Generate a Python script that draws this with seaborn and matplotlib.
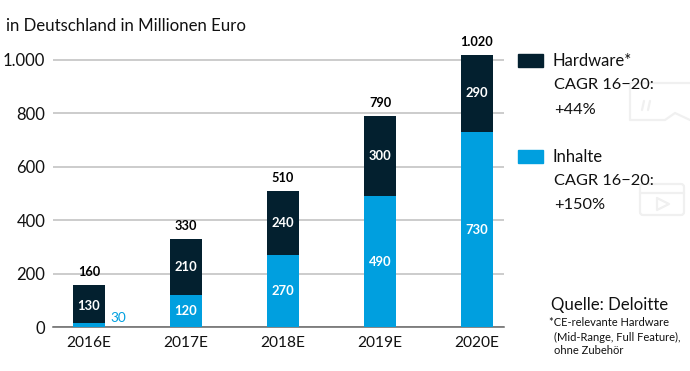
import matplotlib
matplotlib.use("Agg")
import matplotlib.pyplot as plt
import pandas as pd
import seaborn as sns

# ============================
# DATA
# ============================
jahre = ["2016E", "2017E", "2018E", "2019E", "2020E"]
# bar heights as drawn (the 2016 segment is drawn smaller than its label)
hardware = [142, 210, 240, 300, 290]
inhalte = [16, 120, 270, 490, 730]
labels_hardware = ["130", "210", "240", "300", "290"]
labels_inhalte = ["30", "120", "270", "490", "730"]
labels_summe = ["160", "330", "510", "790", "1.020"]
y_ticks = [0, 200, 400, 600, 800, 1000]
y_ticklabels = ["0", "200", "400", "600", "800", "1.000"]

DUNKEL = "#03202F"
BLAU = "#009FDF"
GRID = "#BFBFBF"
ICON = "#F0F0F0"
TEXT = "#111111"

sns.set_theme(style="white")
plt.rcParams["font.family"] = ["Lato", "DejaVu Sans"]

W, H = 690, 371
fig = plt.figure(figsize=(W / 100, H / 100), dpi=100)

# faint icons behind everything
bg = fig.add_axes([0, 0, 1, 1], zorder=0)
bg.set_xlim(0, W)
bg.set_ylim(H, 0)
bg.axis("off")
bg.plot([690, 630, 630, 665, 675, 690], [83, 83, 120, 120, 113, 120], color=ICON, lw=1.6)
bg.plot([642, 644], [110, 101], color=ICON, lw=1.6)
bg.plot([648, 650], [110, 101], color=ICON, lw=1.6)
bg.add_patch(plt.matplotlib.patches.FancyBboxPatch((640, 184), 44, 31, boxstyle="round,pad=0,rounding_size=3",
                                                   fill=False, ec=ICON, lw=1.6))
bg.plot([640, 684], [193, 193], color=ICON, lw=1.6)
bg.plot([657, 669, 657, 657], [198, 204, 210, 198], color=ICON, lw=1.6)

ax = fig.add_axes([53 / W, 1 - 327 / H, (504 - 53) / W, (327 - 50) / H], zorder=1)
ax.patch.set_alpha(0)

df = pd.DataFrame({"Jahr": jahre, "Hardware": hardware, "Inhalte": inhalte})
df["Summe"] = df["Hardware"] + df["Inhalte"]

sns.barplot(data=df, x="Jahr", y="Summe", color=DUNKEL, width=0.335, saturation=1, linewidth=0, ax=ax, zorder=3)
sns.barplot(data=df, x="Jahr", y="Inhalte", color=BLAU, width=0.335, saturation=1, linewidth=0, ax=ax, zorder=4)

ax.set_xlim(-0.371, 4.278)
ax.set_ylim(0, 1037)
ax.set_xlabel("")
ax.set_ylabel("")
ax.set_yticks(y_ticks)
ax.set_yticklabels(y_ticklabels, fontsize=12, color=TEXT)
ax.tick_params(axis="x", labelsize=11.2, length=0, pad=6.5, colors=TEXT)
ax.tick_params(axis="y", length=0, pad=5.5)
ax.grid(axis="y", color=GRID, lw=1.1, zorder=0)
ax.set_axisbelow(True)
sns.despine(ax=ax, left=True, top=True, right=True)
ax.spines["bottom"].set_color("#666666")
ax.spines["bottom"].set_linewidth(1.1)

# value labels
for i in range(len(jahre)):
    ax.text(i, df["Summe"][i] + 26, labels_summe[i], ha="center", va="bottom", fontsize=9.2,
            fontweight="bold", color="black", zorder=6)
    if i == 0:
        ax.text(i, df["Inhalte"][i] + df["Hardware"][i] / 2 - 8, labels_hardware[i], ha="center", va="center",
                fontsize=9.4, fontweight="bold", color="white", zorder=6)
        ax.text(i + 0.3, 32, labels_inhalte[i], ha="center", va="center", fontsize=9.8, color=BLAU, zorder=6)
    else:
        ax.text(i, df["Inhalte"][i] + df["Hardware"][i] / 2, labels_hardware[i], ha="center", va="center",
                fontsize=9.4, fontweight="bold", color="white", zorder=6)
        ax.text(i, df["Inhalte"][i] / 2, labels_inhalte[i], ha="center", va="center",
                fontsize=9.4, fontweight="bold", color="white", zorder=6)

# texts around the chart, in pixel positions
over = fig.add_axes([0, 0, 1, 1], zorder=2)
over.set_xlim(0, W)
over.set_ylim(H, 0)
over.axis("off")
over.patch.set_alpha(0)

over.text(6, 26, "in Deutschland in Millionen Euro", fontsize=12.1, va="center", color=TEXT)

over.add_patch(plt.Rectangle((518, 54), 25, 13, color=DUNKEL))
over.text(553, 61, "Hardware*", fontsize=12, va="center", color=TEXT)
over.text(554, 85, "CAGR 16\u221220:", fontsize=11.8, va="center", color=TEXT)
over.text(554, 110, "+44%", fontsize=11.8, va="center", color=TEXT)

over.add_patch(plt.Rectangle((518, 150), 25, 13, color=BLAU))
over.text(553, 157, "Inhalte", fontsize=12, va="center", color=TEXT)
over.text(554, 181, "CAGR 16\u221220:", fontsize=11.8, va="center", color=TEXT)
over.text(554, 205, "+150%", fontsize=11.8, va="center", color=TEXT)

over.text(551, 305, "Quelle: Deloitte", fontsize=12.1, va="center", color=TEXT)
over.text(549, 323, "*CE-relevante Hardware", fontsize=8, va="center", color=TEXT)
over.text(554, 337, "(Mid-Range, Full Feature),", fontsize=8, va="center", color=TEXT)
over.text(554, 350, "ohne Zubehör", fontsize=8, va="center", color=TEXT)

fig.savefig("out.png", dpi=100)
